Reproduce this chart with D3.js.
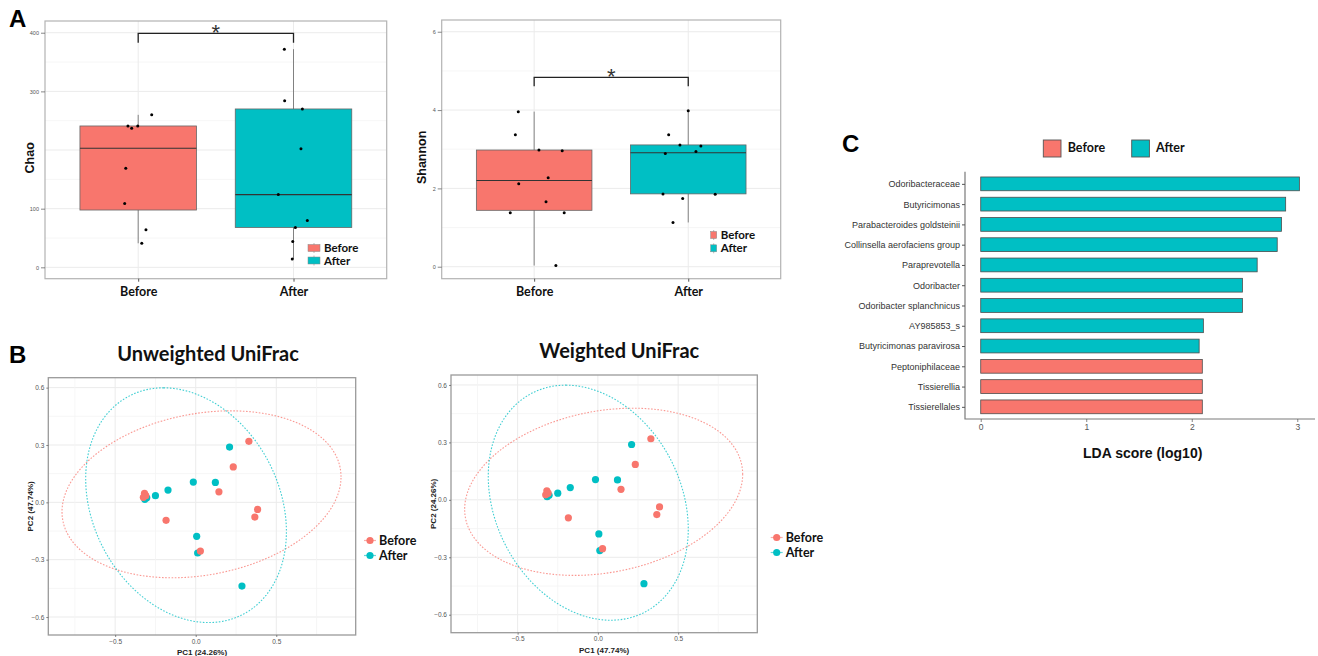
<!DOCTYPE html>
<meta charset="utf-8" />
<title>Alpha diversity, PCoA and LDA</title>
<script src="https://d3js.org/d3.v7.min.js"></script>
<style>
  body { margin: 0; background: #fff; }
  svg { display: block; font-family: "Liberation Sans", Arial, sans-serif; }
  .cal { font-family: Lato, "Open Sans", sans-serif; font-weight: 700; }
</style>
<svg id="fig" width="1318" height="656"></svg>
<script>
  var groups = ["Before", "After"];
  var colors = ["#F8766D", "#00BFC4"];

  // A - Chao: values and jitter (offset from category centre, in category units)
  var chaoBefore = [260, 241, 237, 241, 169, 109, 64, 41];
  var chaoBeforeJit = [0.087, -0.066, -0.042, -0.003, -0.08, -0.087, 0.05, 0.023];
  var chaoAfter = [372, 284, 270, 202, 124, 80, 68, 44, 14];
  var chaoAfterJit = [-0.059, -0.057, 0.057, 0.048, -0.098, 0.089, 0.012, -0.005, -0.008];
  // box stats: lower whisker, q1, median, q3, upper whisker
  var chaoStats = [[41, 97.7, 203, 241, 260], [14, 68, 124, 270, 372]];

  // A - Shannon
  var shanBefore = [3.96, 3.37, 2.98, 2.96, 2.27, 2.12, 1.66, 1.38, 1.38, 0.03];
  var shanBeforeJit = [-0.103, -0.122, 0.031, 0.182, 0.091, -0.1, 0.077, -0.155, 0.195, 0.141];
  var shanAfter = [3.98, 3.37, 3.11, 3.08, 2.94, 2.89, 1.86, 1.85, 1.74, 1.13];
  var shanAfterJit = [0, -0.127, -0.054, 0.082, 0.05, -0.149, -0.164, 0.175, -0.036, -0.099];
  var shanStats = [[0.03, 1.44, 2.2, 2.98, 3.96], [1.13, 1.86, 2.91, 3.11, 3.98]];

  // B - PCoA coordinates (both panels show the same points)
  var pcBeforeX = [0.33, 0.233, 0.144, 0.384, 0.367, -0.184, 0.029, -0.318, -0.325, -0.31];
  var pcBeforeY = [0.319, 0.185, 0.055, -0.037, -0.077, -0.094, -0.255, 0.047, 0.026, 0.035];
  var pcAfterX = [0.21, -0.015, 0.122, -0.172, -0.25, -0.304, -0.316, 0.006, 0.012, 0.287];
  var pcAfterY = [0.289, 0.106, 0.104, 0.064, 0.035, 0.024, 0.016, -0.178, -0.265, -0.438];
  // ellipses: centre, u, v  -> c + u cos t + v sin t (data units)
  var ellBefore = { c: [0.036, 0.042], u: [0.866, 0.0915], v: [0, 0.427] };
  var ellAfter = { c: [-0.06, -0.015], u: [-0.14, 0.614], v: [0.607, 0] };

  // C - LDA
  var ldaTaxa = ["Odoribacteraceae", "Butyricimonas", "Parabacteroides goldsteinii",
    "Collinsella aerofaciens group", "Paraprevotella", "Odoribacter",
    "Odoribacter splanchnicus", "AY985853_s", "Butyricimonas paravirosa",
    "Peptoniphilaceae", "Tissierellia", "Tissierellales"];
  var ldaScore = [3.02, 2.89, 2.85, 2.81, 2.62, 2.48, 2.48, 2.11, 2.07, 2.1, 2.1, 2.1];
  var ldaGroup = ["After", "After", "After", "After", "After", "After", "After", "After", "After",
    "Before", "Before", "Before"];

  var svg = d3.select("#fig");
  var col = d3.scaleOrdinal().domain(groups).range(colors);

  function hline(g, vals, y, x0, x1, stroke, w) {
    g.append("g").selectAll("line").data(vals).join("line")
      .attr("x1", x0).attr("x2", x1)
      .attr("y1", d => y(d)).attr("y2", d => y(d))
      .attr("stroke", stroke).attr("stroke-width", w);
  }
  function vline(g, vals, x, y0, y1, stroke, w) {
    g.append("g").selectAll("line").data(vals).join("line")
      .attr("y1", y0).attr("y2", y1)
      .attr("x1", d => x(d)).attr("x2", d => x(d))
      .attr("stroke", stroke).attr("stroke-width", w);
  }
  function styleAxis(a, size) {
    a.select(".domain").remove();
    a.selectAll(".tick line").attr("stroke", "#555").attr("stroke-width", 0.7);
    a.selectAll(".tick text").attr("fill", "#555").style("font-size", size + "px");
  }

  // ---------- A: boxplots ----------
  function boxPanel(p) {
    var g = svg.append("g");
    var x = d3.scalePoint().domain(groups).range([p.x0, p.x1]).padding(0.6);
    var y = d3.scaleLinear().domain(p.yDomain).range([p.y1, p.y0]);
    var u = x.step();

    hline(g, p.minor, y, p.x0, p.x1, "#f4f4f4", 0.8);
    hline(g, p.major, y, p.x0, p.x1, "#ebebeb", 1);
    vline(g, groups, x, p.y0, p.y1, "#ebebeb", 1);

    groups.forEach(function (grp, i) {
      var s = p.stats[i], cx = x(grp);
      g.append("line").attr("x1", cx).attr("x2", cx)
        .attr("y1", y(s[0])).attr("y2", y(s[4]))
        .attr("stroke", "#666").attr("stroke-width", 0.8);
      g.append("rect")
        .attr("x", cx - 0.375 * u).attr("width", 0.75 * u)
        .attr("y", y(s[3])).attr("height", y(s[1]) - y(s[3]))
        .attr("fill", col(grp)).attr("stroke", "#666").attr("stroke-width", 0.8);
      g.append("line").attr("x1", cx - 0.375 * u).attr("x2", cx + 0.375 * u)
        .attr("y1", y(s[2])).attr("y2", y(s[2]))
        .attr("stroke", "#333").attr("stroke-width", 1.1);
      g.append("g").selectAll("circle").data(p.values[i]).join("circle")
        .attr("cx", (d, j) => cx + p.jit[i][j] * u)
        .attr("cy", d => y(d)).attr("r", 1.5).attr("fill", "#000");
    });

    // significance bracket
    var bx0 = x("Before"), bx1 = x("After");
    g.append("path")
      .attr("d", `M${bx0},${y(p.bracket[1])}V${y(p.bracket[0])}H${bx1}V${y(p.bracket[1])}`)
      .attr("fill", "none").attr("stroke", "#222").attr("stroke-width", 1.3);
    g.append("text").attr("x", (bx0 + bx1) / 2).attr("y", y(p.bracket[0]) + 7)
      .attr("text-anchor", "middle").style("font-size", "22px").attr("fill", "#333").text("*");

    g.append("rect").attr("x", p.x0).attr("y", p.y0)
      .attr("width", p.x1 - p.x0).attr("height", p.y1 - p.y0)
      .attr("fill", "none").attr("stroke", "#b3b3b3").attr("stroke-width", 1.2);

    var ya = g.append("g").attr("transform", `translate(${p.x0},0)`)
      .call(d3.axisLeft(y).tickValues(p.labelled).tickFormat(d3.format("d"))
        .tickSize(4).tickPadding(2));
    styleAxis(ya, 5.5);
    var xa = g.append("g").attr("transform", `translate(0,${p.y1})`)
      .call(d3.axisBottom(x).tickSize(3).tickPadding(5));
    xa.select(".domain").remove();
    xa.selectAll(".tick line").attr("stroke", "#555");
    xa.selectAll(".tick text").attr("class", "cal").attr("fill", "#111")
      .style("font-size", "12.5px");

    g.append("text").attr("transform", `translate(${p.labelX},${(p.y0 + p.y1) / 2 + 8}) rotate(-90)`)
      .attr("text-anchor", "middle").attr("dy", "0.35em")
      .style("font-size", "12.5px").style("font-weight", 700).attr("fill", "#111")
      .text(p.ylabel);

    // legend
    var lg = g.append("g").attr("transform", `translate(${p.legX},${p.legY})`);
    groups.forEach(function (grp, i) {
      var r = lg.append("g").attr("transform", `translate(0,${i * p.legStep})`);
      r.append("line").attr("x1", p.legW / 2).attr("x2", p.legW / 2)
        .attr("y1", -5).attr("y2", 5).attr("stroke", "#888").attr("stroke-width", 0.6);
      r.append("rect").attr("x", 0).attr("y", -3.5).attr("width", p.legW).attr("height", 7)
        .attr("fill", col(grp)).attr("stroke", "#888").attr("stroke-width", 0.5);
      r.append("text").attr("class", "cal").attr("x", p.legW + 4).attr("dy", "0.36em")
        .style("font-size", "11.5px").attr("fill", "#111").text(grp);
    });
  }

  boxPanel({
    x0: 45, x1: 386.7, y0: 21, y1: 278.7, yDomain: [-19.4, 420],
    major: [0, 100, 200, 300, 400], minor: [50, 150, 250, 350],
    labelled: [0, 100, 300, 400],
    stats: chaoStats, values: [chaoBefore, chaoAfter], jit: [chaoBeforeJit, chaoAfterJit],
    bracket: [399, 383], ylabel: "Chao", labelX: 30,
    legX: 308, legY: 248, legStep: 12.5, legW: 12
  });
  boxPanel({
    x0: 441.7, x1: 780.7, y0: 20, y1: 278.7, yDomain: [-0.306, 6.3],
    major: [0, 2, 4, 6], minor: [1, 3, 5],
    labelled: [0, 2, 4, 6],
    stats: shanStats, values: [shanBefore, shanAfter], jit: [shanBeforeJit, shanAfterJit],
    bracket: [4.835, 4.61], ylabel: "Shannon", labelX: 421.7,
    legX: 710.7, legY: 235, legStep: 13.3, legW: 6
  });

  // ---------- B: PCoA ----------
  function pcPanel(p) {
    var g = svg.append("g");
    var x = d3.scaleLinear().domain([-0.915, 0.993]).range([p.x0, p.x1]);
    var y = d3.scaleLinear().domain([-0.694, 0.652]).range([p.y1, p.y0]);

    hline(g, [-0.45, -0.15, 0.15, 0.45], y, p.x0, p.x1, "#f4f4f4", 0.8);
    hline(g, [-0.6, -0.3, 0, 0.3, 0.6], y, p.x0, p.x1, "#ebebeb", 1);
    vline(g, [-0.75, -0.25, 0.25, 0.75], x, p.y0, p.y1, "#f4f4f4", 0.8);
    vline(g, [-0.5, 0, 0.5], x, p.y0, p.y1, "#ebebeb", 1);

    var ell = d3.line().curve(d3.curveLinearClosed)
      .x(d => x(d[0])).y(d => y(d[1]));
    [[ellBefore, "Before"], [ellAfter, "After"]].forEach(function (e) {
      var E = e[0];
      var pts = d3.range(0, 2 * Math.PI, Math.PI / 90).map(t => [
        E.c[0] + E.u[0] * Math.cos(t) + E.v[0] * Math.sin(t),
        E.c[1] + E.u[1] * Math.cos(t) + E.v[1] * Math.sin(t)]);
      g.append("path").attr("d", ell(pts)).attr("fill", "none")
        .attr("stroke", col(e[1])).attr("stroke-opacity", 0.75)
        .attr("stroke-width", 1.1).attr("stroke-dasharray", "1.6,1.6");
    });

    var sets = [["After", pcAfterX, pcAfterY], ["Before", pcBeforeX, pcBeforeY]];
    sets.forEach(function (s) {
      g.append("g").selectAll("circle").data(s[1]).join("circle")
        .attr("cx", d => x(d)).attr("cy", (d, j) => y(s[2][j]))
        .attr("r", 3.6).attr("fill", col(s[0]));
    });

    g.append("rect").attr("x", p.x0).attr("y", p.y0)
      .attr("width", p.x1 - p.x0).attr("height", p.y1 - p.y0)
      .attr("fill", "none").attr("stroke", "#9a9a9a").attr("stroke-width", 1.3);

    var ya = g.append("g").attr("transform", `translate(${p.x0},0)`)
      .call(d3.axisLeft(y).tickValues([-0.6, -0.3, 0, 0.3, 0.6]).tickFormat(d3.format(".1f"))
        .tickSize(2).tickPadding(2));
    styleAxis(ya, 6.5);
    var xa = g.append("g").attr("transform", `translate(0,${p.y1})`)
      .call(d3.axisBottom(x).tickValues([-0.5, 0, 0.5]).tickFormat(d3.format(".1f"))
        .tickSize(2).tickPadding(2));
    styleAxis(xa, 6.5);

    g.append("text").attr("x", (p.x0 + p.x1) / 2).attr("y", p.y1 + 20)
      .attr("text-anchor", "middle").style("font-size", "8px").style("font-weight", 700)
      .attr("fill", "#222").text(p.xlabel);
    g.append("text").attr("transform", `translate(${p.ylabX},${(p.y0 + p.y1) / 2}) rotate(-90)`)
      .attr("text-anchor", "middle").attr("dy", "0.35em")
      .style("font-size", "8px").style("font-weight", 700).attr("fill", "#222").text(p.ylabel);

    g.append("text").attr("class", "cal").attr("x", p.titleX).attr("y", p.titleY)
      .attr("text-anchor", "middle").style("font-size", "20px").attr("fill", "#111")
      .text(p.title);

    var lg = g.append("g").attr("transform", `translate(${p.legX},${p.legY})`);
    groups.forEach(function (grp, i) {
      var r = lg.append("g").attr("transform", `translate(0,${i * 15})`);
      r.append("line").attr("x1", -6).attr("x2", 6).attr("stroke", col(grp))
        .attr("stroke-opacity", 0.6).attr("stroke-width", 1.2);
      r.append("circle").attr("r", 3.6).attr("fill", col(grp));
      r.append("text").attr("class", "cal").attr("x", 9).attr("dy", "0.36em")
        .style("font-size", "12.5px").attr("fill", "#111").text(grp);
    });
  }

  pcPanel({
    x0: 48.3, x1: 355.7, y0: 377.7, y1: 635,
    title: "Unweighted UniFrac", titleX: 208, titleY: 360.7,
    xlabel: "PC1 (24.26%)", ylabel: "PC2 (47.74%)", ylabX: 30,
    legX: 370, legY: 540.5
  });
  pcPanel({
    x0: 451, x1: 757.3, y0: 375, y1: 632.7,
    title: "Weighted UniFrac", titleX: 619.3, titleY: 358.3,
    xlabel: "PC1 (47.74%)", ylabel: "PC2 (24.26%)", ylabX: 433.3,
    legX: 776.7, legY: 537.5
  });

  // ---------- C: LDA ----------
  (function () {
    var x0 = 965, x1 = 1315, y0 = 171.7, y1 = 419;
    var g = svg.append("g");
    var x = d3.scaleLinear().domain([-0.149, 3.168]).range([x0, x1]);
    var y = d3.scalePoint().domain(ldaTaxa).range([y0, y1]).padding(0.6);
    var h = y.step() * 0.68;

    g.append("g").selectAll("rect").data(ldaTaxa).join("rect")
      .attr("x", x(0)).attr("y", d => y(d) - h / 2)
      .attr("width", (d, i) => x(ldaScore[i]) - x(0)).attr("height", h)
      .attr("fill", (d, i) => col(ldaGroup[i]))
      .attr("stroke", "#4d4d4d").attr("stroke-width", 0.8);

    g.append("path").attr("d", `M${x0},${y0}V${y1}H${x1}`)
      .attr("fill", "none").attr("stroke", "#7a7a7a").attr("stroke-width", 1.2);

    var ya = g.append("g").attr("transform", `translate(${x0},0)`)
      .call(d3.axisLeft(y).tickSize(3).tickPadding(2));
    ya.select(".domain").remove();
    ya.selectAll(".tick line").attr("stroke", "#555");
    ya.selectAll(".tick text").attr("fill", "#333").style("font-size", "9px");
    var xa = g.append("g").attr("transform", `translate(0,${y1})`)
      .call(d3.axisBottom(x).tickValues([0, 1, 2, 3]).tickFormat(d3.format("d"))
        .tickSize(3).tickPadding(2));
    styleAxis(xa, 8.5);

    g.append("text").attr("x", 1142.7).attr("y", 458.3).attr("text-anchor", "middle")
      .style("font-size", "14px").style("font-weight", 700).attr("fill", "#111")
      .text("LDA score (log10)");

    var lg = g.append("g").attr("transform", "translate(1043.3,148.5)");
    groups.forEach(function (grp, i) {
      var r = lg.append("g").attr("transform", `translate(${i * 88.4},0)`);
      r.append("rect").attr("x", 0).attr("y", -8.5).attr("width", 17.7).attr("height", 17)
        .attr("fill", col(grp)).attr("stroke", "#555").attr("stroke-width", 0.9);
      r.append("text").attr("class", "cal").attr("x", 24.4).attr("dy", "0.3em")
        .style("font-size", "12.5px").attr("fill", "#111").text(grp);
    });
  })();

  // panel letters
  [["A", 9, 27], ["B", 9, 363], ["C", 842, 151.5]].forEach(function (d) {
    svg.append("text").attr("x", d[1]).attr("y", d[2])
      .style("font-size", "24px").style("font-weight", 700).attr("fill", "#000").text(d[0]);
  });
</script>
